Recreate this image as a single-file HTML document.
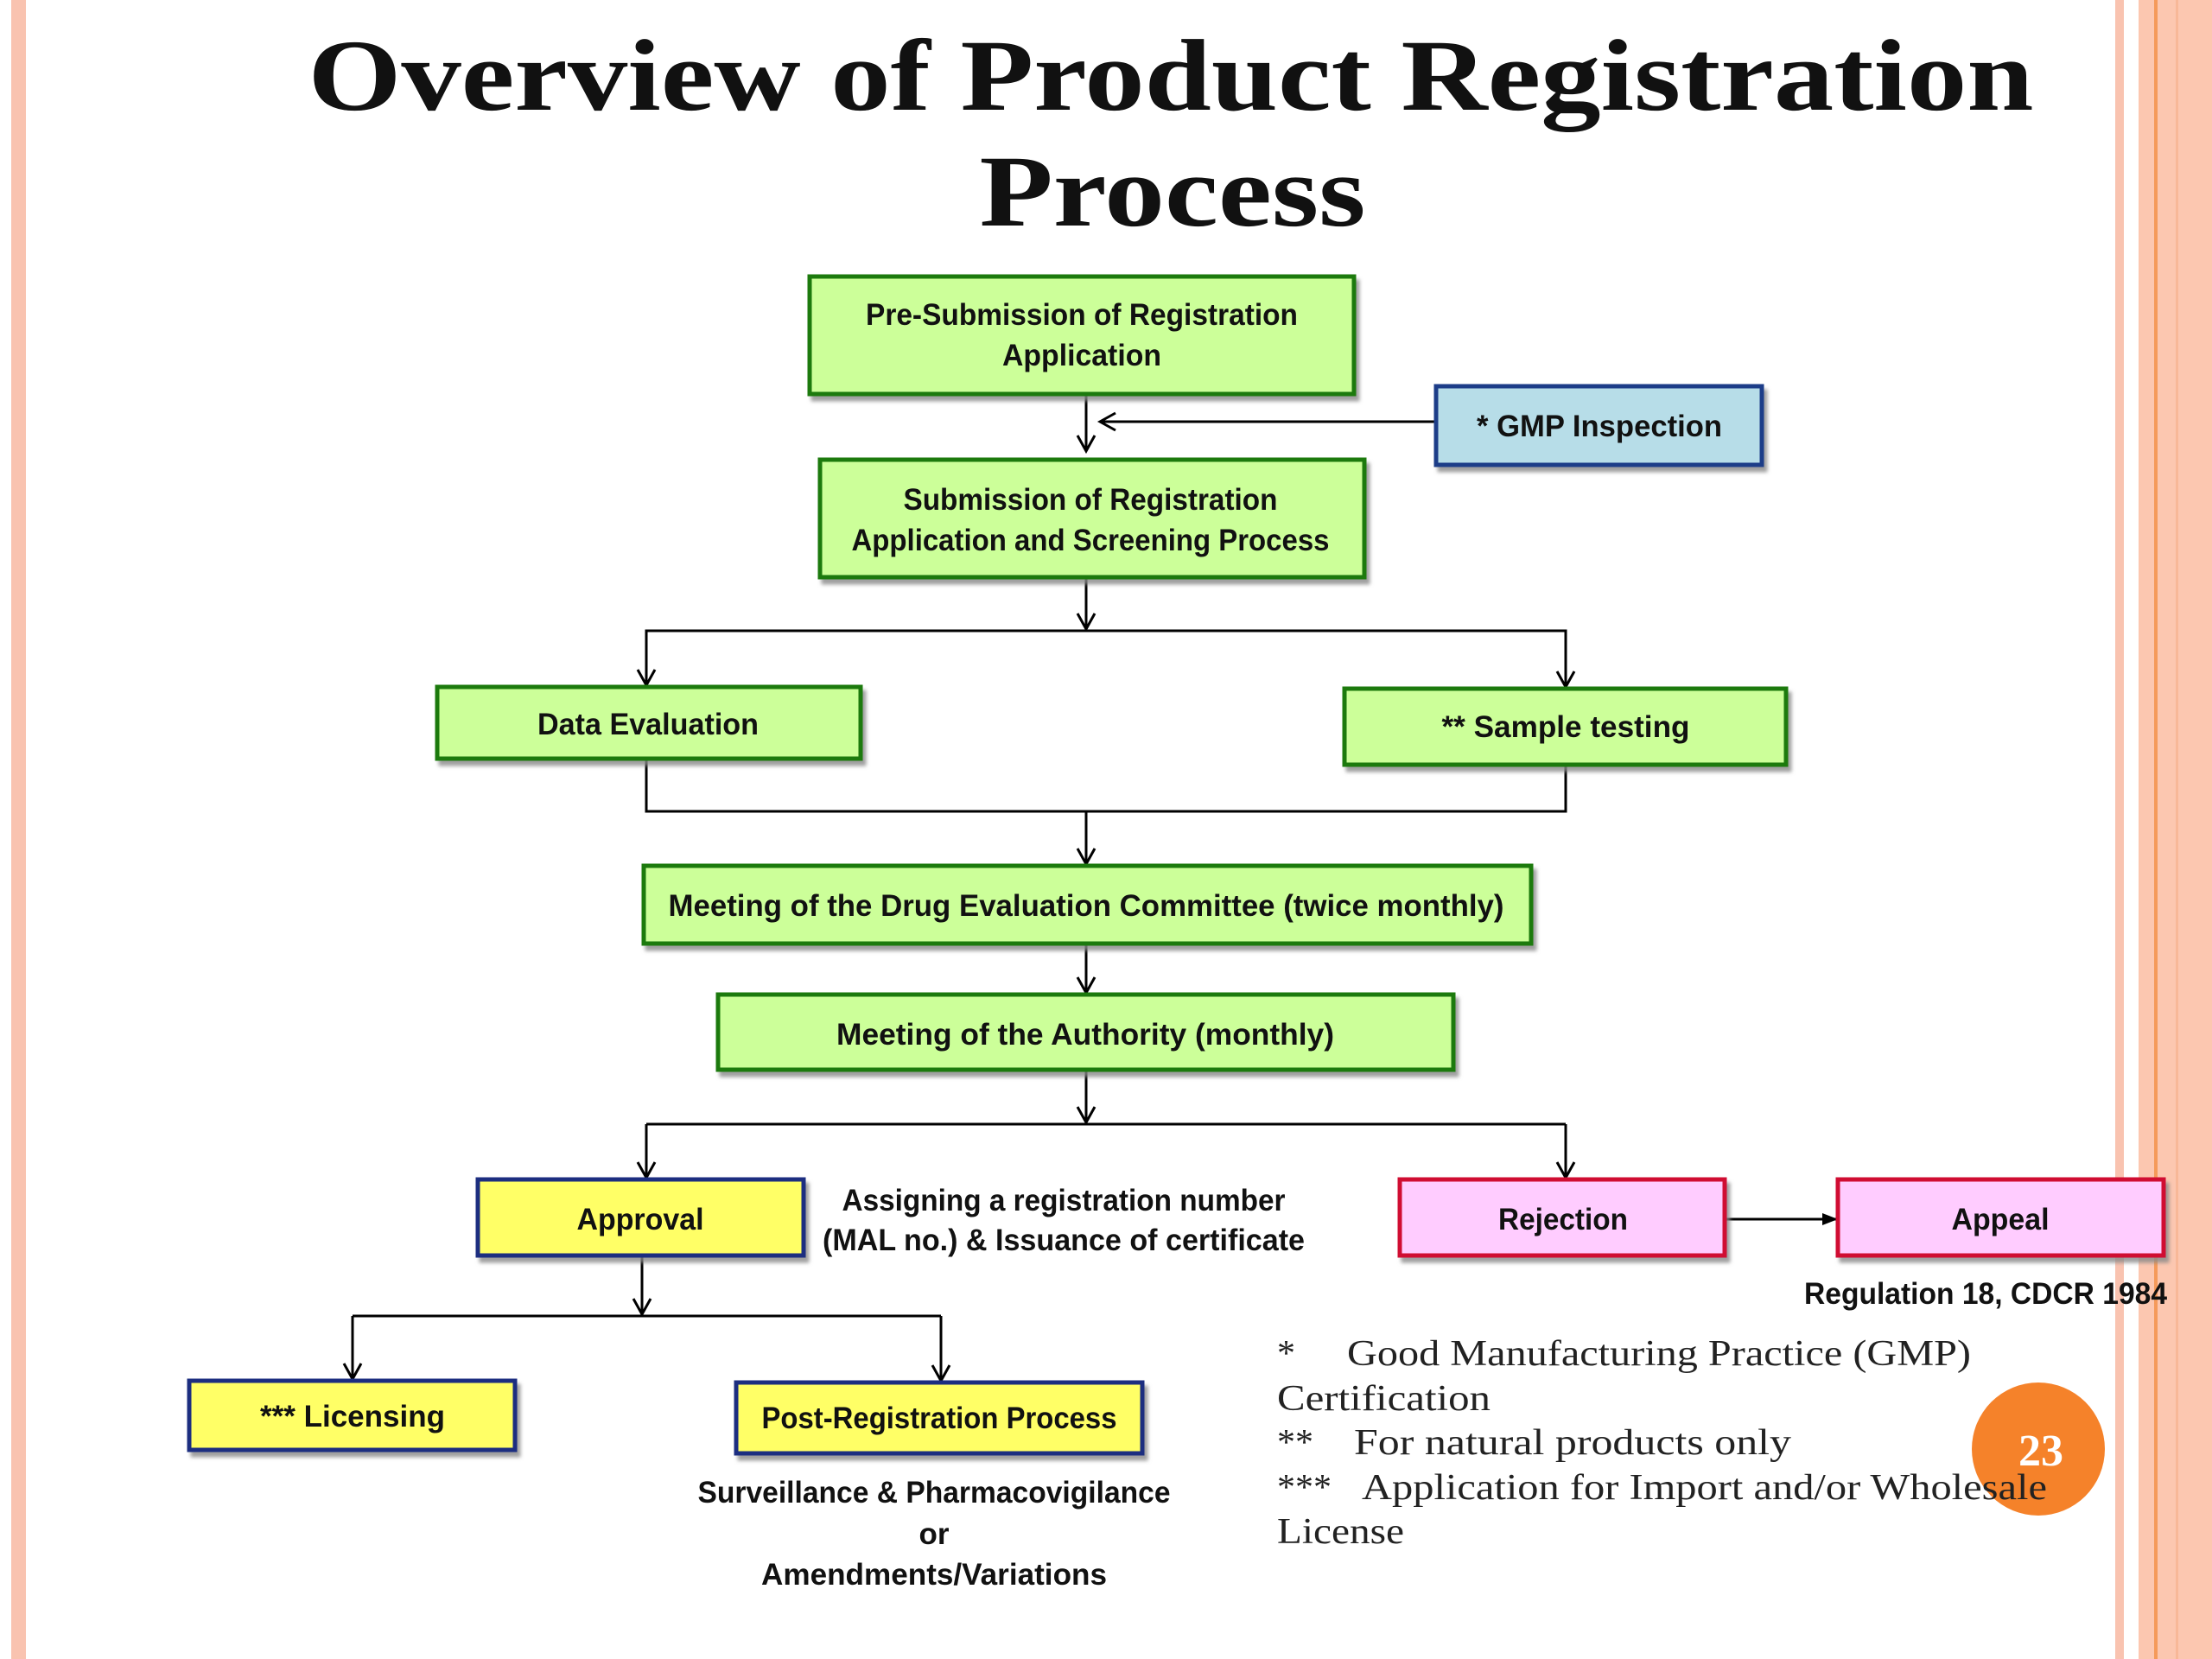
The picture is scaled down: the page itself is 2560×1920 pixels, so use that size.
<!DOCTYPE html>
<html><head><meta charset="utf-8"><style>
html,body{margin:0;padding:0;background:#fff}
svg{display:block}
.b{font-family:"Liberation Sans",sans-serif;font-weight:bold;font-size:35px;fill:#111}
.s{font-family:"Liberation Serif",serif;font-size:42px;fill:#222}
</style></head><body>
<svg width="2560" height="1920" viewBox="0 0 2560 1920" xmlns="http://www.w3.org/2000/svg">
<defs>
<marker id="o" markerWidth="24" markerHeight="24" refX="20" refY="12" orient="auto" markerUnits="userSpaceOnUse"><path d="M2,2 L20,12 L2,22" fill="none" stroke="#000" stroke-width="3"/></marker>
<marker id="f" markerWidth="20" markerHeight="20" refX="18" refY="10" orient="auto" markerUnits="userSpaceOnUse"><path d="M0,3 L18,10 L0,17 Z" fill="#000"/></marker>
<filter id="sh" x="-5%" y="-5%" width="115%" height="130%"><feDropShadow dx="4" dy="6" stdDeviation="2" flood-color="#888" flood-opacity="0.8"/></filter>
</defs>
<rect x="13" y="0" width="17" height="1920" fill="#f9c3b0"/>
<rect x="2448" y="0" width="10" height="1920" fill="#f9c3b0"/>
<rect x="2475" y="0" width="85" height="1920" fill="#fcc7b0"/>
<rect x="2493" y="0" width="4" height="1920" fill="#f59a5a"/>
<rect x="2518" y="0" width="3" height="1920" fill="#f8b898"/>
<g font-family="Liberation Serif,serif" font-weight="bold" font-size="118" fill="#111" text-anchor="middle">
<text x="1355" y="127" textLength="1997" lengthAdjust="spacingAndGlyphs">Overview of Product Registration</text>
<text x="1357" y="261" textLength="447" lengthAdjust="spacingAndGlyphs">Process</text>
</g>
<g stroke="#000" stroke-width="3" fill="none">
<line x1="1257" y1="456" x2="1257" y2="522" marker-end="url(#o)"/>
<line x1="1662" y1="488" x2="1273" y2="488" marker-end="url(#o)"/>
<line x1="1257" y1="668" x2="1257" y2="728" marker-end="url(#o)"/>
<polyline points="748,795 748,730 1812,730 1812,795"/>
<line x1="748" y1="732" x2="748" y2="793" marker-end="url(#o)"/>
<line x1="1812" y1="732" x2="1812" y2="795" marker-end="url(#o)"/>
<polyline points="748,878 748,939 1812,939 1812,885"/>
<line x1="1257" y1="939" x2="1257" y2="1000" marker-end="url(#o)"/>
<line x1="1257" y1="1092" x2="1257" y2="1149" marker-end="url(#o)"/>
<line x1="1257" y1="1238" x2="1257" y2="1299" marker-end="url(#o)"/>
<line x1="748" y1="1301" x2="1812" y2="1301"/>
<line x1="748" y1="1301" x2="748" y2="1363" marker-end="url(#o)"/>
<line x1="1812" y1="1301" x2="1812" y2="1363" marker-end="url(#o)"/>
<line x1="743" y1="1453" x2="743" y2="1521" marker-end="url(#o)"/>
<line x1="408" y1="1523" x2="1089" y2="1523"/>
<line x1="408" y1="1523" x2="408" y2="1596" marker-end="url(#o)"/>
<line x1="1089" y1="1523" x2="1089" y2="1598" marker-end="url(#o)"/>
<line x1="1996" y1="1411" x2="2127" y2="1411" marker-end="url(#f)"/>
</g>
<g filter="url(#sh)" stroke-width="5">
<rect x="937" y="320" width="630" height="136" fill="#ccff99" stroke="#1a7a0a"/>
<rect x="1662" y="447" width="377" height="91" fill="#b7dde8" stroke="#1f3c88"/>
<rect x="949" y="532" width="630" height="136" fill="#ccff99" stroke="#1a7a0a"/>
<rect x="506" y="795" width="490" height="83" fill="#ccff99" stroke="#1a7a0a"/>
<rect x="1556" y="797" width="511" height="88" fill="#ccff99" stroke="#1a7a0a"/>
<rect x="745" y="1002" width="1027" height="90" fill="#ccff99" stroke="#1a7a0a"/>
<rect x="831" y="1151" width="851" height="87" fill="#ccff99" stroke="#1a7a0a"/>
<rect x="553" y="1365" width="377" height="88" fill="#ffff66" stroke="#1f2f80"/>
<rect x="1620" y="1365" width="376" height="88" fill="#ffccff" stroke="#d01030"/>
<rect x="2127" y="1365" width="377" height="88" fill="#ffccff" stroke="#d01030"/>
<rect x="219" y="1598" width="377" height="80" fill="#ffff66" stroke="#1f2f80"/>
<rect x="852" y="1600" width="470" height="82" fill="#ffff66" stroke="#1f2f80"/>
</g>
<g class="b" text-anchor="middle">
<text x="1252" y="376" textLength="500" lengthAdjust="spacingAndGlyphs">Pre-Submission of Registration</text>
<text x="1252" y="423" textLength="184" lengthAdjust="spacingAndGlyphs">Application</text>
<text x="1851" y="505" textLength="284" lengthAdjust="spacingAndGlyphs">* GMP Inspection</text>
<text x="1262" y="590" textLength="433" lengthAdjust="spacingAndGlyphs">Submission of Registration</text>
<text x="1262" y="637" textLength="553" lengthAdjust="spacingAndGlyphs">Application and Screening Process</text>
<text x="750" y="850" textLength="256" lengthAdjust="spacingAndGlyphs">Data Evaluation</text>
<text x="1812" y="853" textLength="287" lengthAdjust="spacingAndGlyphs">** Sample testing</text>
<text x="1257" y="1060" textLength="967" lengthAdjust="spacingAndGlyphs">Meeting of the Drug Evaluation Committee (twice monthly)</text>
<text x="1256" y="1209" textLength="576" lengthAdjust="spacingAndGlyphs">Meeting of the Authority (monthly)</text>
<text x="741" y="1423" textLength="147" lengthAdjust="spacingAndGlyphs">Approval</text>
<text x="1809" y="1423" textLength="150" lengthAdjust="spacingAndGlyphs">Rejection</text>
<text x="2315" y="1423" textLength="113" lengthAdjust="spacingAndGlyphs">Appeal</text>
<text x="408" y="1651" textLength="214" lengthAdjust="spacingAndGlyphs">*** Licensing</text>
<text x="1087" y="1653" textLength="411" lengthAdjust="spacingAndGlyphs">Post-Registration Process</text>
<text x="1231" y="1401" textLength="513" lengthAdjust="spacingAndGlyphs">Assigning a registration number</text>
<text x="1231" y="1447" textLength="558" lengthAdjust="spacingAndGlyphs">(MAL no.) &amp; Issuance of certificate</text>
<text x="2298" y="1509" textLength="420" lengthAdjust="spacingAndGlyphs">Regulation 18, CDCR 1984</text>
<text x="1081" y="1739" textLength="547" lengthAdjust="spacingAndGlyphs">Surveillance &amp; Pharmacovigilance</text>
<text x="1081" y="1787">or</text>
<text x="1081" y="1834" textLength="400" lengthAdjust="spacingAndGlyphs">Amendments/Variations</text>
</g>
<circle cx="2359" cy="1677" r="77" fill="#f5822a"/>
<text x="2362" y="1696" text-anchor="middle" font-family="Liberation Serif,serif" font-weight="bold" font-size="52" fill="#fff">23</text>
<g class="s">
<text x="1478" y="1580">*</text>
<text x="1559" y="1580" textLength="722" lengthAdjust="spacingAndGlyphs">Good Manufacturing Practice (GMP)</text>
<text x="1478" y="1632" textLength="247" lengthAdjust="spacingAndGlyphs">Certification</text>
<text x="1478" y="1683">**</text>
<text x="1567" y="1683" textLength="506" lengthAdjust="spacingAndGlyphs">For natural products only</text>
<text x="1478" y="1735">***</text>
<text x="1576" y="1735" textLength="793" lengthAdjust="spacingAndGlyphs">Application for Import and/or Wholesale</text>
<text x="1478" y="1786" textLength="147" lengthAdjust="spacingAndGlyphs">License</text>
</g>
</svg>
</body></html>
